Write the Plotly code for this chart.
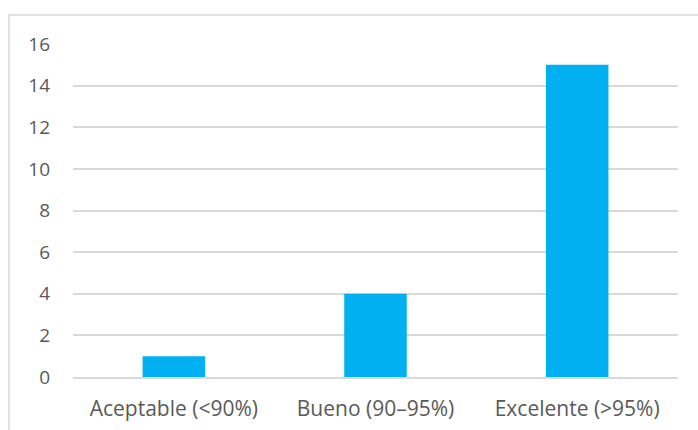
import plotly.graph_objects as go

categories = ["Aceptable (<90%)", "Bueno (90–95%)", "Excelente (>95%)"]
values = [1, 4, 15]
y_ticks = [0, 2, 4, 6, 8, 10, 12, 14, 16]

fig = go.Figure()
fig.add_trace(go.Bar(x=categories, y=values, marker=dict(color="#00B0F0", line=dict(width=0))))

L, R, T, B = 73, 20, 44, 53
W, H = 698, 430
pw, ph = W - L - R, H - T - B

fig.update_layout(
    width=W, height=H,
    margin=dict(l=L, r=R, t=T, b=B, pad=0),
    paper_bgcolor="white", plot_bgcolor="white",
    bargap=0.69,
    showlegend=False,
    font=dict(family="Open Sans, sans-serif", size=19, color="#595959"),
    xaxis=dict(showgrid=False, showline=True, linecolor="#D9D9D9", linewidth=1.5,
               automargin=False,
               ticks="", ticklabelstandoff=12, tickfont=dict(size=21, color="#595959")),
    yaxis=dict(range=[0, 16], tickvals=y_ticks, showgrid=True, gridcolor="#D9D9D9", gridwidth=1.5,
               automargin=False,
               zeroline=False, showline=False, ticks="", ticklabelstandoff=22,
               tickfont=dict(size=19, color="#595959")),
    shapes=[dict(type="rect", xref="paper", yref="paper",
                 x0=(9 - L) / pw, x1=1.2, y0=-0.5, y1=1 + (T - 15) / ph,
                 line=dict(color="#D9D9D9", width=1.5), layer="below")],
)

fig.write_html("out.html")
